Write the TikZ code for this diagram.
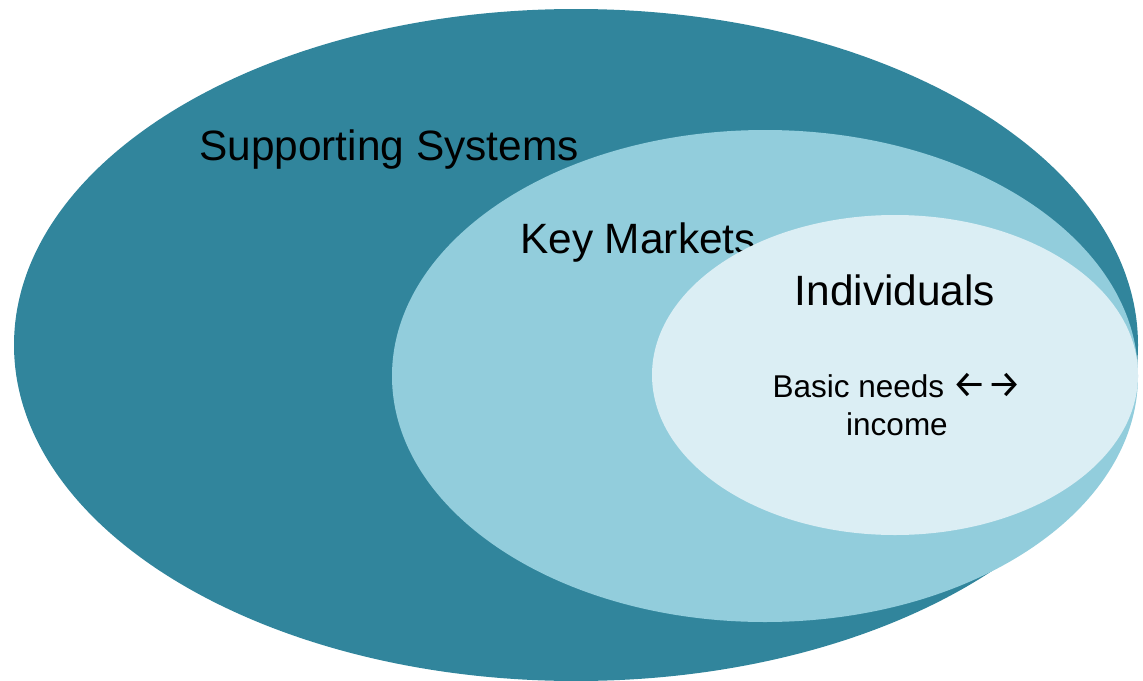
\documentclass[tikz,border=0pt]{standalone}
\usepackage{fontspec}
\setmainfont{Liberation Sans}
\newfontfamily\arrowfont{Fira Sans}
\definecolor{outerteal}{HTML}{31859C}
\definecolor{midblue}{HTML}{92CDDC}
\definecolor{paleblue}{HTML}{DBEEF4}
\tikzset{
  bigtext/.style={font=\fontsize{42.4}{50}\selectfont, inner sep=0pt, anchor=base},
  smalltext/.style={font=\fontsize{31.5}{38}\selectfont, inner sep=0pt, align=center, anchor=base}
}
\begin{document}
\begin{tikzpicture}[x=1pt,y=-1pt]
   \useasboundingbox (0,0) rectangle (1143,680);

   % Nested ellipses
   \fill [outerteal] (576,345) ellipse [x radius=562, y radius=336];
   \node (supp) [bigtext] at (389,160) {Supporting Systems};

   \fill [midblue] (765,376) ellipse [x radius=373, y radius=246];
   \node (keym) [bigtext] at (638,253) {Key Markets};

   \fill [paleblue] (895,375) ellipse [x radius=243, y radius=160];
   \node (indiv) [bigtext] at (895,305) {Individuals};

   \node (needs) [smalltext] at (897,435) {Basic needs {\arrowfont\fontsize{38}{38}\selectfont ←→}\\income};
\end{tikzpicture}
\end{document}
